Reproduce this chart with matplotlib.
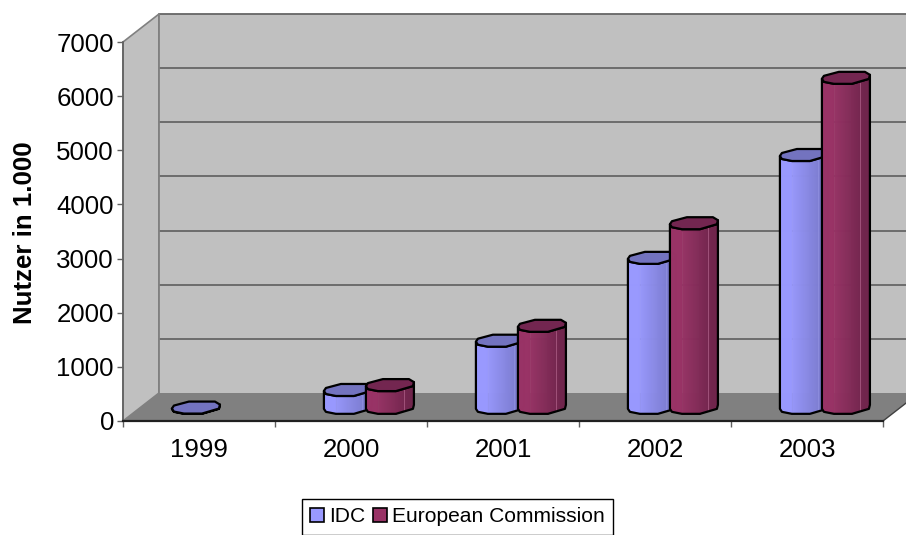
import numpy as np
import matplotlib
matplotlib.use("Agg")
import matplotlib.pyplot as plt
from matplotlib.patches import Polygon, Patch

plt.rcParams['font.family'] = ['Liberation Sans', 'DejaVu Sans']

years = ['1999', '2000', '2001', '2002', '2003']
idc = [5, 330, 1240, 2770, 4670]
european_commission = [None, 420, 1515, 3410, 6095]
series_names = ['IDC', 'European Commission']
y_ticks = [0, 1000, 2000, 3000, 4000, 5000, 6000, 7000]
y_label = 'Nutzer in 1.000'

W, H = 906, 535
fig = plt.figure(figsize=(W / 100, H / 100), dpi=100, facecolor='white')
ax = fig.add_axes([123 / W, (H - 421) / H, 760 / W, 379 / H])
ax.set_xlim(0, 5)
ax.set_ylim(0, 7000)
ax.patch.set_visible(False)

PX = 1 / 152            # category units per pixel
PY = 7000 / 379         # value units per pixel
DX, DY = 36 * PX, 28 * PY   # full chart depth


def proj(x, y, d):
    return (x + d * DX, y + d * DY)


def poly(pts, **kw):
    kw.setdefault('clip_on', False)
    p = Polygon(pts, closed=True, **kw)
    ax.add_patch(p)
    return p


# walls and floor
poly([proj(0, 0, 0), proj(0, 0, 1), proj(0, 7000, 1), proj(0, 7000, 0)],
     facecolor='#C0C0C0', edgecolor='#808080', lw=1.2, zorder=1)
poly([proj(0, 0, 1), proj(5, 0, 1), proj(5, 7000, 1), proj(0, 7000, 1)],
     facecolor='#C0C0C0', edgecolor='none', zorder=1)
poly([proj(0, 0, 0), proj(5, 0, 0), proj(5, 0, 1), proj(0, 0, 1)],
     facecolor='#808080', edgecolor='none', zorder=1.5)
for t in y_ticks[1:]:
    a, b = proj(0, t, 1), proj(5, t, 1)
    ax.plot([a[0], b[0]], [a[1], b[1]], color='#666666', lw=1.3, zorder=2,
            clip_on=False, solid_capstyle='butt')
a, b = proj(0, 0, 1), proj(0, 7000, 1)
ax.plot([a[0], b[0]], [a[1], b[1]], color='#808080', lw=1.3, zorder=2, clip_on=False)
a, b = proj(5, 0, 0), proj(5, 0, 1)
ax.plot([a[0], b[0]], [a[1], b[1]], color='#404040', lw=1.0, zorder=2, clip_on=False)

# bar cross-section, pixels around the bar centre (x right, y up)
front = [(-24, -1), (-22, -4), (-12, -6), (6, -6), (23, -1), (24, 3)]
back = [(19, 6), (-7, 6), (-22, 2)]
BAR_OFF = 21 * PX
BAR_SHIFT = 1 * PX
BAR_D = 0.47


def lerp(c1, c2, t):
    return tuple((1 - t) * a + t * b for a, b in zip(c1, c2))


def shade(light, dark, f):
    return lerp(light, dark, np.clip((f - 0.22) / 0.68, 0, 1))


def bar(xc, value, light, dark, top, facet):
    cx, cy = proj(xc, value, BAR_D)
    bx, by = proj(xc, 0, BAR_D)
    fr = np.array(front, float)
    xs = fr[:, 0]
    # shaded vertical strips
    for i in range(len(fr) - 1):
        n = max(int(xs[i + 1] - xs[i]) * 2, 1)
        for k in range(n):
            t0, t1 = k / n, (k + 1) / n
            x0 = xs[i] + (xs[i + 1] - xs[i]) * t0
            x1 = xs[i] + (xs[i + 1] - xs[i]) * t1
            y0 = fr[i, 1] + (fr[i + 1, 1] - fr[i, 1]) * t0
            y1 = fr[i, 1] + (fr[i + 1, 1] - fr[i, 1]) * t1
            f = ((x0 + x1) / 2 - xs[0]) / (xs[-1] - xs[0])
            c = shade(light, dark, f)
            poly([(cx + x0 * PX, cy + y0 * PY), (cx + x1 * PX, cy + y1 * PY),
                  (bx + x1 * PX, by + y1 * PY), (bx + x0 * PX, by + y0 * PY)],
                 facecolor=c, edgecolor=c, lw=0.4, zorder=zo[0])
    if value > 300:
        xf = cx + 14 * PX
        ax.plot([xf, xf], [by - 3 * PY, cy - 3 * PY], color=facet, lw=0.7,
                zorder=zo[0], clip_on=False)
    # outline of the body
    low = [(bx + x * PX, by + y * PY) for x, y in front]
    up = [(cx + x * PX, cy + y * PY) for x, y in front]
    poly(low + up[::-1], facecolor='none', edgecolor='black', lw=1.6,
         joinstyle='round', zorder=zo[0])
    # top face
    ring = front + back
    poly([(cx + x * PX, cy + y * PY) for x, y in ring], facecolor=top,
         edgecolor='black', lw=1.6, joinstyle='round', zorder=zo[0])
    zo[0] += 0.01


zo = [3.0]
LIGHT = [(0x99 / 255, 0x99 / 255, 1.0), (0x99 / 255, 0x33 / 255, 0x66 / 255)]
DARK = [(0x7A / 255, 0x7A / 255, 0xCC / 255), (0x70 / 255, 0x25 / 255, 0x4C / 255)]
TOP = ['#7373BF', '#732650']
FACET = ['#8C8CDD', '#A0527A']
for i in range(len(years)):
    for j, vals in enumerate([idc, european_commission]):
        if vals[i] is None:
            continue
        bar(i + 0.5 + BAR_SHIFT + (2 * j - 1) * BAR_OFF, vals[i], LIGHT[j], DARK[j], TOP[j], FACET[j])

# axes
for s in ['top', 'right']:
    ax.spines[s].set_visible(False)
ax.spines['left'].set_color('#606060')
ax.spines['left'].set_linewidth(1.2)
ax.spines['bottom'].set_color('#202020')
ax.spines['bottom'].set_linewidth(1.6)
for s in ax.spines.values():
    s.set_zorder(2.5)
ax.set_yticks(y_ticks)
ax.set_xticks(range(6))
ax.set_xticklabels([])
ax.set_xticks(np.arange(5) + 0.5, minor=True)
ax.set_xticklabels(years, minor=True, fontsize=18.6)
ax.tick_params(axis='x', which='minor', length=0, pad=12)
ax.tick_params(axis='x', which='major', length=4.5, width=1, color='#606060')
ax.tick_params(axis='y', length=4.5, width=1, color='#606060', labelsize=18.6, pad=2)
fig.text(25.5 / W, (H - 233) / H, y_label, rotation=90, fontsize=18.6, fontweight='bold',
         ha='center', va='center')

# legend
handles = [Patch(facecolor='#9999FF', edgecolor='black', lw=1.2),
           Patch(facecolor='#993366', edgecolor='black', lw=1.2)]
leg = fig.legend(handles, series_names, ncol=2, loc='center',
                 bbox_to_anchor=(457.5 / W, (H - 517) / H), fontsize=15.1,
                 frameon=True, fancybox=False, edgecolor='black', framealpha=1,
                 handlelength=0.65, handleheight=0.65, handletextpad=0.25,
                 columnspacing=0.38, borderpad=0.4, borderaxespad=0)
leg.get_frame().set_linewidth(1.0)

fig.savefig('out.png', dpi=100, facecolor='white')
